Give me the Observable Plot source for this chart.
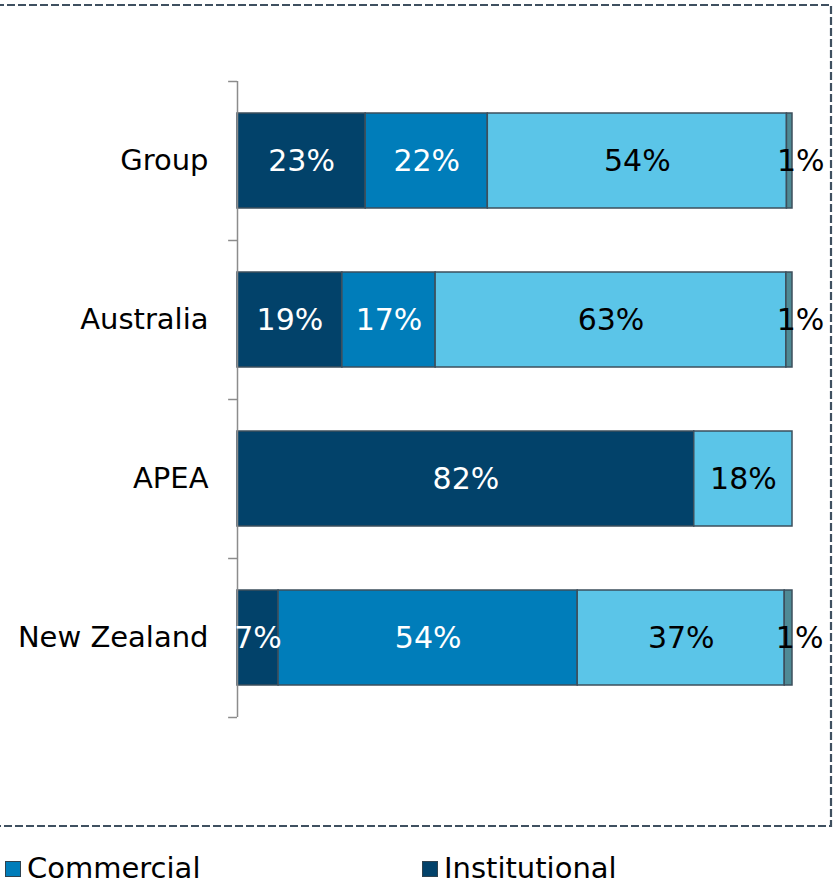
<!DOCTYPE html>
<html><head><meta charset="utf-8">
<script src="https://cdn.jsdelivr.net/npm/d3@7"></script>
<script src="https://cdn.jsdelivr.net/npm/@observablehq/plot@0.6"></script>
<style>
body{margin:0;background:#fff;font-family:"DejaVu Sans",Verdana,sans-serif;}
#wrap{position:relative;width:838px;height:886px;overflow:hidden;background:#fff;}
#legend{position:relative;height:38px;}
#legend .item{position:absolute;top:2px;height:36px;line-height:36px;font-size:29px;color:#000;white-space:nowrap;}
#legend .sw{display:inline-block;width:14px;height:14px;border:1.5px solid #2f4350;margin-right:6px;vertical-align:middle;position:relative;top:-1px;}
#frame{position:absolute;left:0;top:0;pointer-events:none;}
</style></head><body>
<div id="wrap">
  <div id="chart"></div>
  <div id="legend"></div>
  <svg id="frame" width="838" height="886"><rect x="-4" y="5" width="835" height="821" fill="none" stroke="#3f5060" stroke-width="2.2" stroke-dasharray="8,3"/></svg>
</div>
<script>
// Data
const regions = ["Group", "Australia", "APEA", "New Zealand"];
const segments = ["Institutional", "Commercial", "Retail", "Other"];
const institutional = [23.1, 18.9, 82.3, 7.4];
const commercial    = [22.0, 16.8, 0, 53.9];
const retail        = [53.9, 63.2, 17.7, 37.3];
const other         = [1.0, 1.1, 0, 1.4];
const segColors = ["#02426a", "#007dba", "#5bc5e8", "#4f8a95"];
const legendItems = ["Commercial", "Institutional"];

const series = [institutional, commercial, retail, other];
const rows = [];
regions.forEach((r, i) => {
  let acc = 0;
  segments.forEach((s, j) => {
    const v = series[j][i];
    rows.push({region: r, segment: s, value: v, start: acc, end: acc + v});
    acc += v;
  });
});
const shown = rows.filter(d => d.value > 0);
const label = d => Math.round(d.value) + "%";
const mid = d => (d.start + d.end) / 2;

const plot = Plot.plot({
  width: 838,
  height: 848,
  marginLeft: 237,
  marginRight: 46,
  marginTop: 81,
  marginBottom: 131,
  style: {fontFamily: "'DejaVu Sans', Verdana, sans-serif", fontSize: "29px", color: "#000", background: "transparent"},
  x: {domain: [0, 100], axis: null},
  y: {domain: regions, paddingInner: 0.4, paddingOuter: 0.2, tickSize: 0, tickPadding: 29, label: null},
  color: {domain: segments, range: segColors},
  marks: [
    Plot.barX(shown, {x1: "start", x2: "end", y: "region", fill: "segment", stroke: "#3d4f5c", strokeWidth: 1.5}),
    Plot.ruleX([0], {stroke: "#8c8c8c", strokeWidth: 1.5}),
    Plot.ruleY(regions, {y: d => d, x1: -1.6, x2: 0, dy: -79.5, stroke: "#8c8c8c", strokeWidth: 1.5, clip: false}),
    Plot.ruleY(regions.slice(-1), {y: d => d, x1: -1.6, x2: 0, dy: 79.5, stroke: "#8c8c8c", strokeWidth: 1.5, clip: false}),
    Plot.text(shown.filter(d => d.segment === "Institutional" || d.segment === "Commercial"),
      {x: mid, y: "region", text: label, fill: "white", fontSize: 30}),
    Plot.text(shown.filter(d => d.segment === "Retail"),
      {x: mid, y: "region", text: label, fill: "black", fontSize: 30}),
    Plot.text(shown.filter(d => d.segment === "Other"),
      {x: mid, y: "region", text: label, fill: "black", fontSize: 30, dx: 11})
  ]
});
document.getElementById("chart").appendChild(plot);

const leg = document.getElementById("legend");
const legX = [5, 422];
legendItems.forEach((name, k) => {
  const it = document.createElement("div");
  it.className = "item";
  it.style.left = legX[k] + "px";
  const sw = document.createElement("span");
  sw.className = "sw";
  sw.style.background = segColors[segments.indexOf(name)];
  it.appendChild(sw);
  it.appendChild(document.createTextNode(name));
  leg.appendChild(it);
});
</script>
</body></html>
